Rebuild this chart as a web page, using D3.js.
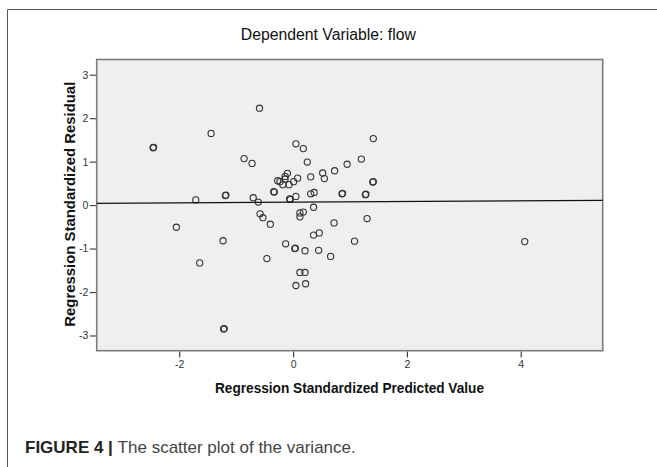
<!DOCTYPE html>
<html>
<head>
<meta charset="utf-8">
<script src="https://cdn.jsdelivr.net/npm/d3@7"></script>
<style>
  body { margin: 0; background: #fff; }
  svg { display: block; }
</style>
</head>
<body>
<div id="vis"></div>
<script>
// predicted value (x) and standardized residual (y)
var predicted = [-0.59, -1.44, 1.41, 0.05, 0.18, -0.86, -0.72, 0.25, 1.20, 0.95,
  0.73, 0.52, 0.55, 0.31, -0.10, -0.14, -0.14, 0.08, -0.27, -0.23,
  0.01, -0.18, -0.07, 1.40, 1.41, -0.34, -0.33, -1.19, -1.18, 0.31,
  0.37, 0.86, 0.87, 1.27, 1.28, -1.71, -0.70, -0.61, -0.06, -0.05,
  0.05, 0.36, -0.58, -0.53, -0.40, 0.12, 0.18, 0.12, 0.72, 1.30,
  -1.23, 0.36, 0.46, 1.08, -0.13, 0.03, 0.04, 0.21, 0.45, 0.66,
  -0.46, -1.64, 0.12, 0.21, 0.05, 0.22, -1.22, -1.21, -2.46, -2.45,
  -2.05, 4.07];
var residual = [2.23, 1.65, 1.53, 1.41, 1.30, 1.07, 0.96, 0.99, 1.06, 0.94,
  0.79, 0.74, 0.61, 0.65, 0.73, 0.66, 0.60, 0.62, 0.56, 0.54,
  0.54, 0.47, 0.47, 0.53, 0.54, 0.31, 0.30, 0.22, 0.23, 0.26,
  0.29, 0.26, 0.27, 0.24, 0.25, 0.12, 0.17, 0.07, 0.14, 0.13,
  0.20, -0.05, -0.20, -0.29, -0.44, -0.18, -0.16, -0.27, -0.41, -0.31,
  -0.82, -0.69, -0.64, -0.83, -0.89, -1.00, -0.99, -1.05, -1.04, -1.18,
  -1.23, -1.33, -1.55, -1.55, -1.85, -1.81, -2.85, -2.84, 1.32, 1.33,
  -0.51, -0.84];

var fitX = [-3.45, 5.44],
    fitY = [0.04, 0.11];

var xTicks = [-2, 0, 2, 4],
    yTicks = [-3, -2, -1, 0, 1, 2, 3];

var W = 657, H = 467,
    plotL = 96.7, plotR = 602.7, plotT = 59.5, plotB = 350.7,
    narrow = "'Liberation Sans Narrow', 'Liberation Sans', Arial, sans-serif";

var x = d3.scaleLinear().domain([-3.45, 5.44]).range([plotL, plotR]),
    y = d3.scaleLinear().domain([-3.35, 3.35]).range([plotB, plotT]);

var svg = d3.select("#vis").append("svg")
    .attr("width", W)
    .attr("height", H);

// outer frame of the figure (top and left edges only are visible)
svg.append("path")
    .attr("d", "M7.5," + H + "V9.5H" + W)
    .attr("fill", "none")
    .attr("stroke", "#555")
    .attr("stroke-width", 1);

svg.append("text")
    .attr("x", 328.3)
    .attr("y", 39.5)
    .attr("text-anchor", "middle")
    .attr("textLength", 175)
    .attr("lengthAdjust", "spacingAndGlyphs")
    .style("font-family", narrow)
    .style("font-size", "16px")
    .style("font-weight", 500)
    .style("fill", "#111")
    .text("Dependent Variable: flow");

svg.append("rect")
    .attr("x", plotL)
    .attr("y", plotT)
    .attr("width", plotR - plotL)
    .attr("height", plotB - plotT)
    .attr("fill", "#efefef")
    .attr("stroke", "#7c7c7c")
    .attr("stroke-width", 1.6);

var yAxis = svg.append("g")
    .attr("transform", "translate(" + (plotL - 0.8) + ",0)")
    .call(d3.axisLeft(y).tickValues(yTicks).tickSize(6).tickPadding(1.5).tickFormat(String));

var xAxis = svg.append("g")
    .attr("transform", "translate(0," + (plotB + 0.8) + ")")
    .call(d3.axisBottom(x).tickValues(xTicks).tickSize(6).tickPadding(3).tickFormat(String));

[xAxis, yAxis].forEach(function(g) {
  g.select(".domain").remove();
  g.selectAll("line").attr("stroke", "#444").attr("stroke-width", 1.2);
  g.selectAll("text")
      .style("font-family", narrow)
      .style("font-size", "10.5px")
      .style("fill", "#333");
});

svg.append("g").selectAll("circle")
    .data(d3.range(predicted.length))
    .enter().append("circle")
    .attr("cx", function(i) { return x(predicted[i]); })
    .attr("cy", function(i) { return y(residual[i]); })
    .attr("r", 3.1)
    .attr("fill", "none")
    .attr("stroke", "#333")
    .attr("stroke-width", 1.1);

svg.append("line")
    .attr("x1", x(fitX[0]))
    .attr("y1", y(fitY[0]))
    .attr("x2", x(fitX[1]))
    .attr("y2", y(fitY[1]))
    .attr("stroke", "#111")
    .attr("stroke-width", 1.3);

svg.append("text")
    .attr("x", 349.5)
    .attr("y", 393)
    .attr("text-anchor", "middle")
    .attr("textLength", 269)
    .attr("lengthAdjust", "spacingAndGlyphs")
    .style("font-family", narrow)
    .style("font-size", "15px")
    .style("font-weight", "bold")
    .style("fill", "#111")
    .text("Regression Standardized Predicted Value");

svg.append("text")
    .attr("transform", "translate(75,204.2) rotate(-90)")
    .attr("text-anchor", "middle")
    .attr("textLength", 245)
    .attr("lengthAdjust", "spacingAndGlyphs")
    .style("font-family", narrow)
    .style("font-size", "14.5px")
    .style("font-weight", "bold")
    .style("fill", "#111")
    .text("Regression Standardized Residual");

var caption = svg.append("text")
    .attr("x", 25)
    .attr("y", 453.3)
    .style("font-family", "'Liberation Sans', Arial, sans-serif")
    .style("font-size", "17px");

caption.append("tspan")
    .style("font-weight", "bold")
    .style("fill", "#222")
    .text("FIGURE 4 | ");

caption.append("tspan")
    .style("fill", "#444")
    .text("The scatter plot of the variance.");
</script>
</body>
</html>
